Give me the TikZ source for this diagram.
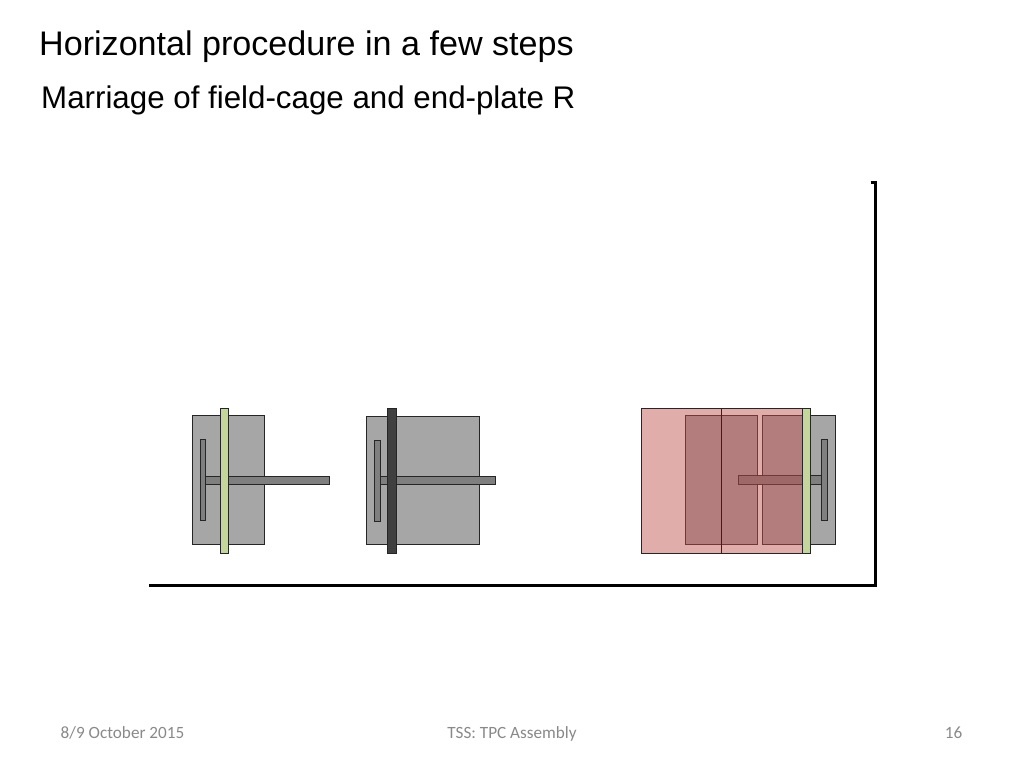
\documentclass[tikz,border=0pt]{standalone}
\usepackage{fontspec}
\setmainfont{Liberation Sans}
\newfontfamily\footfont{Carlito}
\definecolor{greybox}{HTML}{A6A6A6}
\definecolor{greybar}{HTML}{7F7F7F}
\definecolor{greenbar}{HTML}{C4D79B}
\definecolor{darkbar}{HTML}{404040}
\definecolor{pinkbox}{HTML}{C0504D}
\definecolor{foot}{HTML}{898989}
\tikzset{
  part/.style={draw=black!85,line width=1pt},
  cage/.style={draw=black!85,line width=1pt,fill=pinkbox,fill opacity=0.47},
  titletext/.style={anchor=base west,inner sep=0pt,text=black},
  foottext/.style={inner sep=0pt,text=foot,font=\footfont\fontsize{17.2}{19}\selectfont,anchor=base},
}
\begin{document}
\begin{tikzpicture}[x=1pt,y=-1pt]
\useasboundingbox (0,0) rectangle (1024,768);
\node[titletext,font=\fontsize{34.1}{38}\selectfont] (title) at (39,56) {Horizontal procedure in a few steps};
\node[titletext,font=\fontsize{31.3}{35}\selectfont] (subtitle) at (41,108.5) {Marriage of field-cage and end-plate R};
% assembly 1
\draw[part,fill=greybox] (192.3,415.7) rectangle (264.7,544.3);
\draw[part,fill=greybar] (205.7,476) rectangle (329.3,484.3);
\draw[part,fill=greybar] (200.3,439.3) rectangle (205.7,520.7);
\draw[part,fill=greenbar] (220.7,408.3) rectangle (228.7,553.3);
% assembly 2
\draw[part,fill=greybox] (366.7,416) rectangle (479.7,544.3);
\draw[part,fill=greybar] (380,476.7) rectangle (495.7,484.3);
\draw[part,fill=greybar] (374.7,440.3) rectangle (380.3,521.3);
\draw[part,fill=darkbar] (387.7,408.3) rectangle (396,553.3);
% assembly 3
\draw[part,fill=greybox] (762.3,415.7) rectangle (835,544.3);
\draw[part,fill=greybox] (685.3,415.7) rectangle (757.7,544.3);
\draw[part,fill=greybar] (738,475.7) rectangle (821.7,484);
\draw[part,fill=greybar] (821.7,439.3) rectangle (827,520.7);
\draw[cage] (641,408.3) rectangle (721.5,553.3);
\draw[cage] (721.5,408.3) rectangle (802.5,553.3);
\draw[part,fill=greenbar] (802.5,408.3) rectangle (810.3,553.3);
% frame
\draw[line width=3pt,line join=miter] (870.5,182.5) -- (875,182.5) -- (875,585) -- (149,585);
% footer
\node[foottext] (date) at (122.5,738.5) {8/9 October 2015};
\node[foottext] (tss) at (512,738.5) {TSS: TPC Assembly};
\node[foottext] (page) at (953.5,738.5) {16};
\end{tikzpicture}
\end{document}
